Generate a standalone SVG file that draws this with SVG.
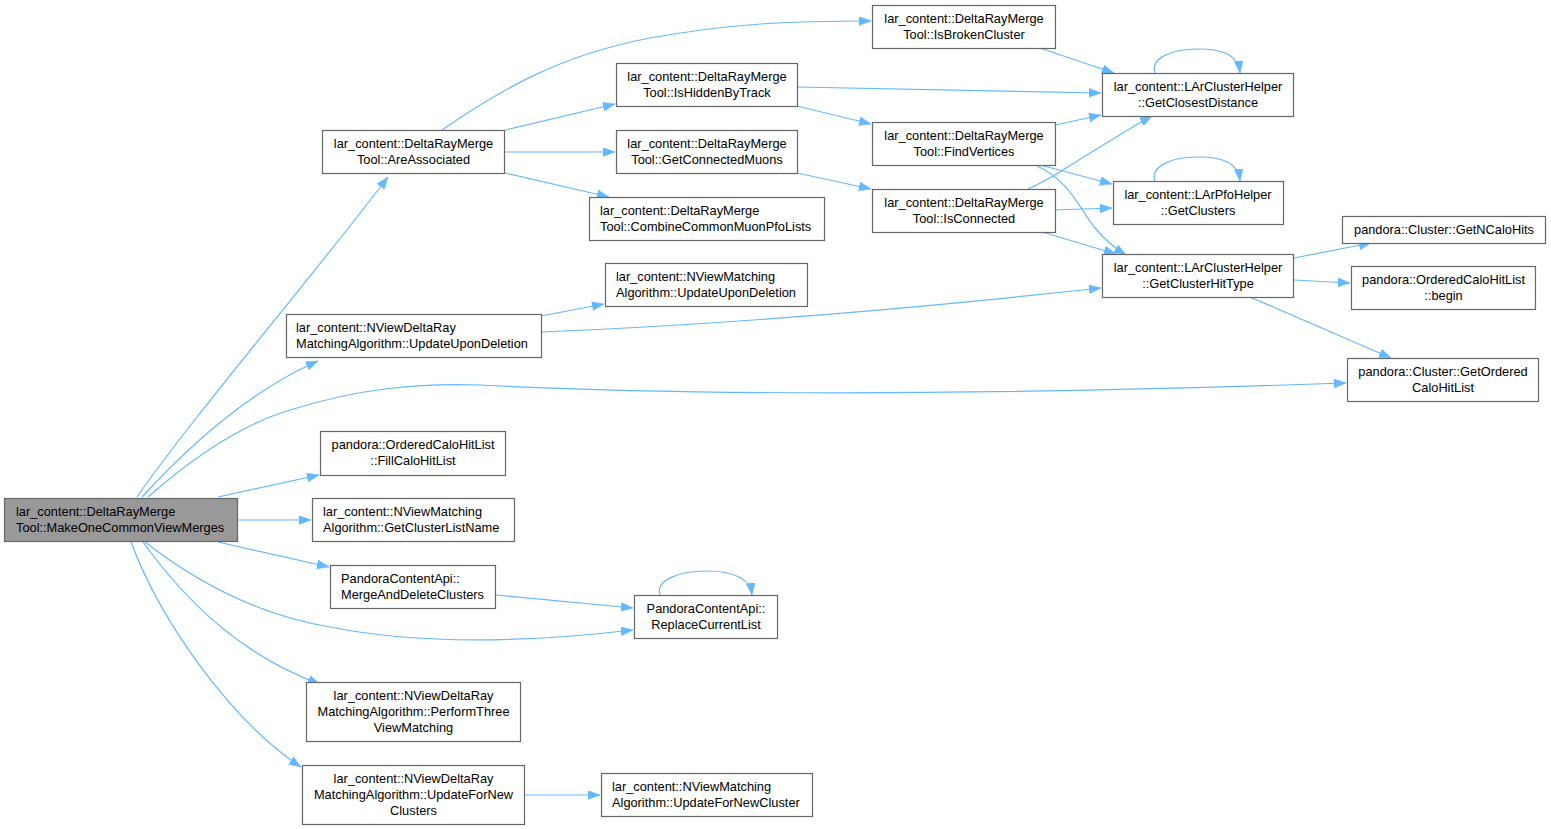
<svg xmlns="http://www.w3.org/2000/svg" width="1551" height="829" viewBox="0 0 1551 829">
<defs>
<marker id="ah" markerUnits="userSpaceOnUse" markerWidth="13" markerHeight="10" refX="12" refY="4.5" orient="auto">
<path d="M0,0 L12,4.5 L0,9 z" fill="#63b8ff" stroke="#63b8ff" stroke-width="0.5"/>
</marker>
</defs>
<style>
.n rect{fill:#ffffff;stroke:#666666;stroke-width:1.2}
.n text{font-family:"Liberation Sans",Arial,sans-serif;font-size:12.8px;fill:#000000}
.c{text-anchor:middle}
.h rect{fill:#999999;stroke:#666666}
#edges path{fill:none;stroke:#63b8ff;stroke-width:1.2;marker-end:url(#ah)}
</style>
<rect width="1551" height="829" fill="#ffffff"/>
<g id="edges">
<path d="M137,497 C 190,420 310,280 388,177"/>
<path d="M142,497 C 185,450 245,393 318,361"/>
<path d="M148,497 C 190,460 240,425 290,410 C 360,388 420,383 480,385 C 700,396 1000,395 1346,383"/>
<path d="M218,497 L319,475"/>
<path d="M238,520 L311,520"/>
<path d="M218,542 L329,567"/>
<path d="M145,542 C 200,585 260,615 330,627 C 420,645 530,642 633,630"/>
<path d="M143,542 C 185,600 240,655 320,684"/>
<path d="M131,542 C 160,620 230,720 301,767"/>
<path d="M442,130 C 500,90 560,55 650,38 C 740,22 800,21 871,21"/>
<path d="M505,130 L615,104"/>
<path d="M505,152 L615,152"/>
<path d="M505,173 L609,197"/>
<path d="M797,87 L1101,93"/>
<path d="M797,106 L871,124"/>
<path d="M797,173 L871,189"/>
<path d="M1040,48 L1114,73"/>
<path d="M1055,125 L1101,115"/>
<path d="M1040,165 L1112,184"/>
<path d="M1035,165 C 1070,180 1080,210 1095,228 C 1105,240 1113,247 1126,255"/>
<path d="M1028,189 C 1050,180 1070,165 1095,150 C 1115,138 1130,128 1152,116"/>
<path d="M1055,210 L1112,208"/>
<path d="M1042,232 L1116,254"/>
<path d="M1155,73 C 1150,58 1172,49 1198,49 C 1224,49 1238,55 1240,73"/>
<path d="M1155,181 C 1150,166 1172,157 1198,157 C 1224,157 1238,163 1240,181"/>
<path d="M541,316 L604,304"/>
<path d="M541,332 C 720,325 900,310 1101,288"/>
<path d="M1294,258 L1371,243"/>
<path d="M1294,280 L1350,283"/>
<path d="M1250,297 L1391,358"/>
<path d="M495,595 L633,608"/>
<path d="M660,595 C 655,580 680,571 706,571 C 732,571 750,578 752,595"/>
<path d="M524,795 L600,795"/>
</g>
<g id="n1" class="n h"><rect x="4.5" y="498.5" width="233" height="43"/><text x="16" y="516">lar_content::DeltaRayMerge</text><text x="16" y="532">Tool::MakeOneCommonViewMerges</text></g>
<g id="n2" class="n"><rect x="322.5" y="130.5" width="182" height="43"/><text class="c" x="413.5" y="148">lar_content::DeltaRayMerge</text><text class="c" x="413.5" y="164">Tool::AreAssociated</text></g>
<g id="n3" class="n"><rect x="872.5" y="5.5" width="183" height="43"/><text class="c" x="964" y="23">lar_content::DeltaRayMerge</text><text class="c" x="964" y="39">Tool::IsBrokenCluster</text></g>
<g id="n4" class="n"><rect x="616.5" y="63.5" width="181" height="43"/><text class="c" x="707" y="81">lar_content::DeltaRayMerge</text><text class="c" x="707" y="97">Tool::IsHiddenByTrack</text></g>
<g id="n5" class="n"><rect x="616.5" y="130.5" width="181" height="43"/><text class="c" x="707" y="148">lar_content::DeltaRayMerge</text><text class="c" x="707" y="164">Tool::GetConnectedMuons</text></g>
<g id="n6" class="n"><rect x="589.5" y="197.5" width="235" height="43"/><text x="600" y="215">lar_content::DeltaRayMerge</text><text x="600" y="231">Tool::CombineCommonMuonPfoLists</text></g>
<g id="n7" class="n"><rect x="872.5" y="122.5" width="183" height="43"/><text class="c" x="964" y="140">lar_content::DeltaRayMerge</text><text class="c" x="964" y="156">Tool::FindVertices</text></g>
<g id="n8" class="n"><rect x="872.5" y="189.5" width="183" height="43"/><text class="c" x="964" y="207">lar_content::DeltaRayMerge</text><text class="c" x="964" y="223">Tool::IsConnected</text></g>
<g id="n9" class="n"><rect x="1102.5" y="73.5" width="191" height="43"/><text class="c" x="1198" y="91">lar_content::LArClusterHelper</text><text class="c" x="1198" y="107">::GetClosestDistance</text></g>
<g id="n10" class="n"><rect x="1113.5" y="181.5" width="170" height="43"/><text class="c" x="1198" y="199">lar_content::LArPfoHelper</text><text class="c" x="1198" y="215">::GetClusters</text></g>
<g id="n11" class="n"><rect x="1102.5" y="254.5" width="191" height="43"/><text class="c" x="1198" y="272">lar_content::LArClusterHelper</text><text class="c" x="1198" y="288">::GetClusterHitType</text></g>
<g id="n12" class="n"><rect x="1342.5" y="216.5" width="203" height="27"/><text class="c" x="1444" y="234">pandora::Cluster::GetNCaloHits</text></g>
<g id="n13" class="n"><rect x="1351.5" y="266.5" width="184" height="43"/><text class="c" x="1443.5" y="284">pandora::OrderedCaloHitList</text><text class="c" x="1443.5" y="300">::begin</text></g>
<g id="n14" class="n"><rect x="1347.5" y="358.5" width="191" height="43"/><text class="c" x="1443" y="376">pandora::Cluster::GetOrdered</text><text class="c" x="1443" y="392">CaloHitList</text></g>
<g id="n15" class="n"><rect x="605.5" y="263.5" width="202" height="43"/><text x="616" y="281">lar_content::NViewMatching</text><text x="616" y="297">Algorithm::UpdateUponDeletion</text></g>
<g id="n16" class="n"><rect x="286.5" y="314.5" width="255" height="43"/><text x="296" y="332">lar_content::NViewDeltaRay</text><text x="296" y="348">MatchingAlgorithm::UpdateUponDeletion</text></g>
<g id="n17" class="n"><rect x="320.5" y="431.5" width="185" height="44"/><text class="c" x="413" y="449">pandora::OrderedCaloHitList</text><text class="c" x="413" y="465">::FillCaloHitList</text></g>
<g id="n18" class="n"><rect x="312.5" y="498.5" width="202" height="43"/><text x="323" y="516">lar_content::NViewMatching</text><text x="323" y="532">Algorithm::GetClusterListName</text></g>
<g id="n19" class="n"><rect x="330.5" y="565.5" width="165" height="43"/><text x="341" y="583">PandoraContentApi::</text><text x="341" y="599">MergeAndDeleteClusters</text></g>
<g id="n20" class="n"><rect x="634.5" y="595.5" width="143" height="43"/><text class="c" x="706" y="613">PandoraContentApi::</text><text class="c" x="706" y="629">ReplaceCurrentList</text></g>
<g id="n21" class="n"><rect x="306.5" y="682.5" width="214" height="59"/><text class="c" x="413.5" y="700">lar_content::NViewDeltaRay</text><text class="c" x="413.5" y="716">MatchingAlgorithm::PerformThree</text><text class="c" x="413.5" y="732">ViewMatching</text></g>
<g id="n22" class="n"><rect x="302.5" y="765.5" width="222" height="59"/><text class="c" x="413.5" y="783">lar_content::NViewDeltaRay</text><text class="c" x="413.5" y="799">MatchingAlgorithm::UpdateForNew</text><text class="c" x="413.5" y="815">Clusters</text></g>
<g id="n23" class="n"><rect x="601.5" y="773.5" width="211" height="43"/><text x="612" y="791">lar_content::NViewMatching</text><text x="612" y="807">Algorithm::UpdateForNewCluster</text></g>
</svg>
